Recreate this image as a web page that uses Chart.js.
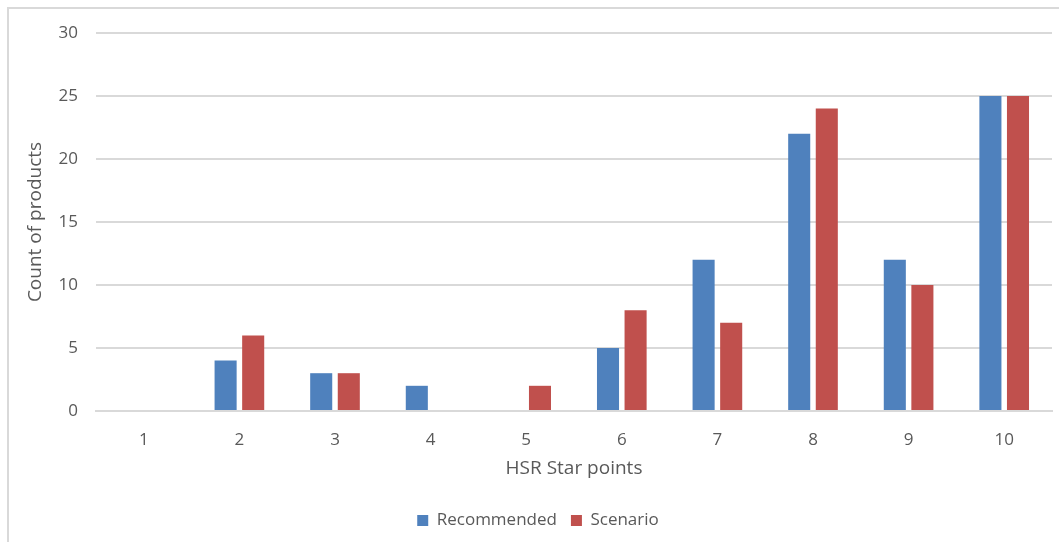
<!DOCTYPE html>
<html>
<head>
<meta charset="utf-8">
<script src="https://cdn.jsdelivr.net/npm/chart.js@4"></script>
<style>
html,body{margin:0;padding:0;background:#fff;}
#wrap{position:relative;width:1059px;height:542px;}
#frame{position:absolute;left:7px;top:7px;width:1060px;height:540px;border-left:2px solid #d9d9d9;border-top:2px solid #d9d9d9;box-sizing:border-box;pointer-events:none;}
canvas{position:absolute;left:0;top:0;}
</style>
</head>
<body>
<div id="wrap"><canvas id="c" width="1059" height="542"></canvas><div id="frame"></div></div>
<script>
const categories = ["1","2","3","4","5","6","7","8","9","10"];
const recommended = [0,4,3,2,0,5,12,22,12,25];
const scenario = [0,6,3,0,2,8,7,24,10,25];
const seriesNames = ["Recommended","Scenario"];
const yTicks = {min:0,max:30,step:5};

const fontFam = "'Open Sans', 'Liberation Sans', sans-serif";
const txt = "#595959";
new Chart(document.getElementById('c'), {
  type: 'bar',
  data: {
    labels: categories,
    datasets: [
      {label: seriesNames[0], data: recommended, backgroundColor: '#4F81BD', borderWidth: 0},
      {label: seriesNames[1], data: scenario, backgroundColor: '#C0504D', borderWidth: 0}
    ]
  },
  options: {
    responsive: false,
    animation: false,
    devicePixelRatio: 1,
    layout: {padding: {left: 24, right: 7, top: 33, bottom: 3}},
    datasets: {bar: {categoryPercentage: 0.577, barPercentage: 0.8}},
    plugins: {
      legend: {
        position: 'bottom',
        labels: {font: {family: fontFam, size: 17}, color: txt, boxWidth: 11, boxHeight: 11, padding: 14}
      },
      tooltip: {enabled: false}
    },
    scales: {
      x: {
        grid: {display: false},
        border: {display: true, color: '#d9d9d9', width: 2},
        ticks: {font: {family: fontFam, size: 17}, color: txt, padding: 11},
        title: {display: true, text: 'HSR Star points', font: {family: fontFam, size: 19}, color: txt, padding: {top: 4, bottom: 18}},
        afterFit: s => { s.height = 87; }
      },
      y: {
        min: yTicks.min, max: yTicks.max,
        ticks: {stepSize: yTicks.step, font: {family: fontFam, size: 17}, color: txt, padding: 18},
        grid: {color: '#d9d9d9', lineWidth: 2, drawTicks: false},
        border: {display: false},
        title: {display: true, text: 'Count of products', font: {family: fontFam, size: 19}, color: txt, padding: 0},
        afterFit: s => { s.width = 72; }
      }
    }
  }
});
</script>
</body>
</html>
